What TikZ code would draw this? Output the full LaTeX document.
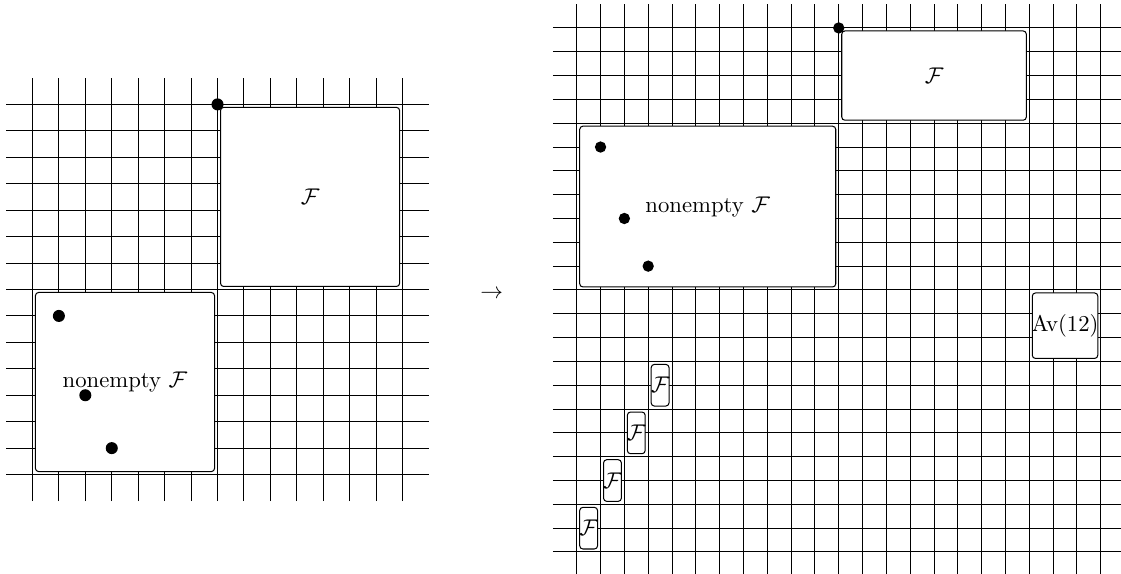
\documentclass[tikz,border=0pt]{standalone}
\begin{document}
\tikzset{
  gridline/.style={line width=0.45pt},
  box/.style={draw, fill=white, rounded corners=1.4pt, inner sep=0pt, line width=0.45pt},
  dotnode/.style={circle, fill=black, inner sep=0pt},
}
\begin{tikzpicture}[x=0.4405pt,y=0.4405pt]
\useasboundingbox (0,0) rectangle (1121,573);
% ---------------- left picture ----------------
\begin{scope}[shift={(6,72)}, x=11.647pt, y=11.647pt]
  \foreach \i in {1,...,15} {
    \draw[gridline] (\i,0) -- (\i,16);
    \draw[gridline] (0,\i) -- (16,\i);
  }
  \node[box, minimum width=78.89pt, minimum height=78.89pt] (lF) at (11.5,11.5) {$\mathcal{F}$};
  \node[box, minimum width=78.89pt, minimum height=78.89pt] (lN) at (4.5,4.5) {};
  \node (lNt) at (lN.center) {nonempty $\mathcal{F}$};
  \node[dotnode, minimum size=5.3pt] (ld0) at (8,15) {};
  \node[dotnode, minimum size=5.3pt] (ld1) at (2,7) {};
  \node[dotnode, minimum size=5.3pt] (ld2) at (3,4) {};
  \node[dotnode, minimum size=5.3pt] (ld3) at (4,2) {};
\end{scope}
% ---------------- arrow ----------------
\node (arr) at (491.7,278.5) {$\to$};
% ---------------- right picture ----------------
\begin{scope}[shift={(552.9,-2.8)}, x=10.493pt, y=10.493pt]
  \foreach \i in {1,...,23} {
    \draw[gridline] (\i,0) -- (\i,24);
    \draw[gridline] (0,\i) -- (24,\i);
  }
  \node[box, minimum width=81.30pt, minimum height=39.33pt] (rF) at (16,21) {$\mathcal{F}$};
  \node[box, minimum width=112.78pt, minimum height=70.81pt] (rN) at (6.5,15.5) {};
  \node (rNt) at (rN.center) {nonempty $\mathcal{F}$};
  \node[box, minimum width=28.84pt, minimum height=28.84pt] (av) at (21.5,10.5) {};
  \node (avt) at (av.center) {Av(12)};
  \foreach \k/\x/\y in {1/1.5/2, 2/2.5/4, 3/3.5/6, 4/4.5/8} {
    \node[box, minimum width=7.85pt, minimum height=18.35pt] (s\k) at (\x,\y) {};
    \node (s\k t) at (s\k.center) {$\mathcal{F}$};
  }
  \node[dotnode, minimum size=5pt] (rd0) at (12,23) {};
  \node[dotnode, minimum size=5pt] (rd1) at (2,18) {};
  \node[dotnode, minimum size=5pt] (rd2) at (3,15) {};
  \node[dotnode, minimum size=5pt] (rd3) at (4,13) {};
\end{scope}
\end{tikzpicture}
\end{document}
